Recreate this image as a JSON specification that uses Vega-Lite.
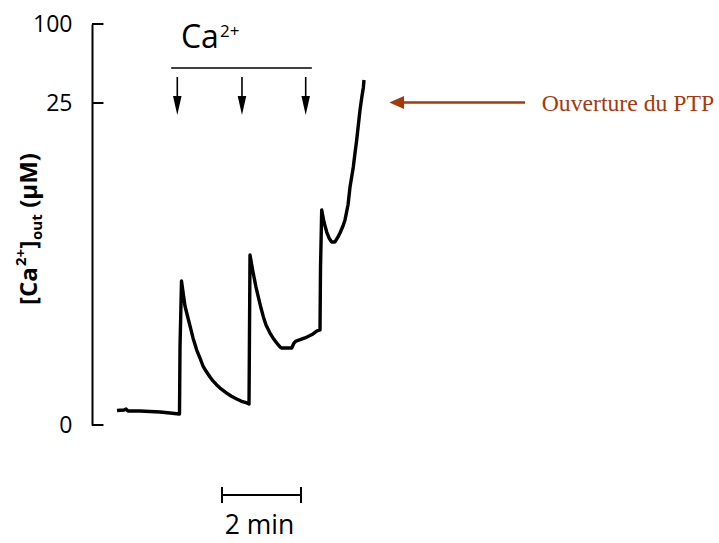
{
  "$schema": "https://vega.github.io/schema/vega-lite/v6.json",
  "autosize": {"type": "none"},
  "padding": {"left": 92, "top": 24, "right": 0, "bottom": 118},
  "width": 627,
  "height": 401,
  "background": "white",
  "config": {"view": {"stroke": null}},
  "datasets": {
    "trace": [
      {"t": 0.633, "ca": 1.13}, {"t": 0.81, "ca": 1.17}, {"t": 0.861, "ca": 1.24}, {"t": 0.911, "ca": 1.09},
      {"t": 1.215, "ca": 1.09}, {"t": 1.468, "ca": 1.05}, {"t": 1.722, "ca": 1.01}, {"t": 1.975, "ca": 0.93},
      {"t": 2.203, "ca": 0.85}, {"t": 2.215, "ca": 0.85}, {"t": 2.228, "ca": 6.06}, {"t": 2.266, "ca": 11.18},
      {"t": 2.304, "ca": 10.33}, {"t": 2.354, "ca": 9.24}, {"t": 2.43, "ca": 8.31}, {"t": 2.481, "ca": 7.69},
      {"t": 2.557, "ca": 6.76}, {"t": 2.651, "ca": 5.82}, {"t": 2.734, "ca": 5.2}, {"t": 2.81, "ca": 4.58},
      {"t": 2.886, "ca": 4.19}, {"t": 2.987, "ca": 3.73}, {"t": 3.063, "ca": 3.42}, {"t": 3.157, "ca": 3.11},
      {"t": 3.241, "ca": 2.87}, {"t": 3.41, "ca": 2.48}, {"t": 3.519, "ca": 2.25}, {"t": 3.663, "ca": 2.02},
      {"t": 3.772, "ca": 1.86}, {"t": 3.916, "ca": 1.71}, {"t": 3.975, "ca": 1.63}, {"t": 4.0, "ca": 13.2},
      {"t": 4.076, "ca": 11.88}, {"t": 4.152, "ca": 10.71}, {"t": 4.21, "ca": 9.94}, {"t": 4.278, "ca": 9.08},
      {"t": 4.337, "ca": 8.41}, {"t": 4.405, "ca": 7.76}, {"t": 4.506, "ca": 7.14}, {"t": 4.582, "ca": 6.76},
      {"t": 4.676, "ca": 6.37}, {"t": 4.759, "ca": 6.06}, {"t": 4.803, "ca": 5.98}, {"t": 5.056, "ca": 5.98},
      {"t": 5.114, "ca": 6.37}, {"t": 5.165, "ca": 6.52}, {"t": 5.392, "ca": 6.76}, {"t": 5.494, "ca": 6.91},
      {"t": 5.595, "ca": 7.07}, {"t": 5.696, "ca": 7.3}, {"t": 5.772, "ca": 7.38}, {"t": 5.785, "ca": 12.19},
      {"t": 5.815, "ca": 16.69}, {"t": 5.873, "ca": 15.76}, {"t": 5.942, "ca": 14.98}, {"t": 6.0, "ca": 14.52},
      {"t": 6.068, "ca": 14.21}, {"t": 6.152, "ca": 14.21}, {"t": 6.228, "ca": 14.6}, {"t": 6.278, "ca": 14.91},
      {"t": 6.354, "ca": 15.45}, {"t": 6.405, "ca": 15.92}, {"t": 6.481, "ca": 17.08}, {"t": 6.532, "ca": 18.48},
      {"t": 6.582, "ca": 19.41}, {"t": 6.615, "ca": 20.03}, {"t": 6.658, "ca": 21.12}, {"t": 6.701, "ca": 22.13},
      {"t": 6.734, "ca": 23.06}, {"t": 6.785, "ca": 24.46}, {"t": 6.835, "ca": 31.65}, {"t": 6.868, "ca": 39.24},
      {"t": 6.886, "ca": 46.84}
    ],
    "ticks": [{"v": 0}, {"v": 25}, {"v": 100}],
    "additions": [{"t": 2.159}, {"t": 3.797}, {"t": 5.41}],
    "scalebar": [{"t": 3.291}, {"t": 5.291}]
  },
  "layer": [
    {
      "data": {"name": "trace"},
      "mark": {"type": "line", "color": "black", "strokeWidth": 3.4, "strokeJoin": "round"},
      "encoding": {
        "x": {"field": "t", "type": "quantitative", "scale": {"domain": [0, 15.873], "nice": false, "zero": false}, "axis": null},
        "y": {
          "field": "ca", "type": "quantitative",
          "scale": {"domain": [0, 25, 100], "range": [401, 79, 0], "nice": false, "zero": false},
          "axis": {
            "values": [0, 25, 100], "title": null, "grid": false,
            "domainColor": "black", "domainWidth": 2, "ticks": false,
            "labelPadding": 20, "labelFont": "Open Sans", "labelFontSize": 23, "labelColor": "black",
            "labelFlush": false, "labelOverlap": false, "labelBaseline": "middle"
          }
        }
      }
    },
    {
      "data": {"name": "ticks"},
      "mark": {"type": "rule", "color": "black", "strokeWidth": 2},
      "encoding": {
        "x": {"datum": 0, "type": "quantitative", "axis": null},
        "x2": {"datum": 0.29},
        "y": {"field": "v", "type": "quantitative", "title": null}
      }
    },
    {
      "data": {"values": [{}]},
      "mark": {"type": "rule", "color": "black", "strokeWidth": 1.5},
      "encoding": {
        "x": {"datum": 2.006, "type": "quantitative", "axis": null},
        "x2": {"datum": 5.565},
        "y": {"datum": 58.2, "type": "quantitative"}
      }
    },
    {
      "data": {"name": "additions"},
      "mark": {"type": "rule", "color": "black", "strokeWidth": 1.6},
      "encoding": {
        "x": {"field": "t", "type": "quantitative", "axis": null},
        "y": {"datum": 49.7, "type": "quantitative"},
        "y2": {"datum": 27.9}
      }
    },
    {
      "data": {"name": "additions"},
      "mark": {"type": "point", "shape": "M-0.45,-1L0.45,-1L0,1Z", "size": 361, "filled": true, "color": "black", "opacity": 1, "strokeWidth": 0},
      "encoding": {
        "x": {"field": "t", "type": "quantitative", "axis": null},
        "y": {"datum": 24.8, "type": "quantitative"}
      }
    },
    {
      "data": {"values": [{}]},
      "mark": {"type": "text", "text": "Ca", "font": "Open Sans", "fontSize": 32, "align": "left", "baseline": "alphabetic", "color": "black"},
      "encoding": {
        "x": {"datum": 2.25, "type": "quantitative", "axis": null},
        "y": {"datum": 76.9, "type": "quantitative"}
      }
    },
    {
      "data": {"values": [{}]},
      "mark": {"type": "text", "text": "2+", "font": "Open Sans", "fontSize": 17, "align": "left", "baseline": "alphabetic", "color": "black"},
      "encoding": {
        "x": {"datum": 3.24, "type": "quantitative", "axis": null},
        "y": {"datum": 87.66, "type": "quantitative"}
      }
    },
    {
      "data": {"values": [{}]},
      "mark": {"type": "rule", "color": "#a33a0c", "strokeWidth": 2.6},
      "encoding": {
        "x": {"datum": 7.797, "type": "quantitative", "axis": null},
        "x2": {"datum": 10.962},
        "y": {"datum": 25.5, "type": "quantitative"}
      }
    },
    {
      "data": {"values": [{}]},
      "mark": {"type": "point", "shape": "M1,-0.88L1,0.88L-1,0Z", "size": 216, "filled": true, "color": "#a33a0c", "opacity": 1, "strokeWidth": 0},
      "encoding": {
        "x": {"datum": 7.714, "type": "quantitative", "axis": null},
        "y": {"datum": 25.5, "type": "quantitative"}
      }
    },
    {
      "data": {"values": [{}]},
      "mark": {"type": "text", "text": "Ouverture du PTP", "font": "Liberation Serif", "fontSize": 23.7, "align": "left", "baseline": "alphabetic", "color": "#a33a0c"},
      "encoding": {
        "x": {"datum": 11.385, "type": "quantitative", "axis": null},
        "y": {"datum": 24.38, "type": "quantitative"}
      }
    },
    {
      "data": {"values": [{}]},
      "mark": {"type": "rule", "color": "black", "strokeWidth": 2},
      "encoding": {
        "x": {"datum": 3.291, "type": "quantitative", "axis": null},
        "x2": {"datum": 5.291},
        "y": {"datum": -5.435, "type": "quantitative"}
      }
    },
    {
      "data": {"name": "scalebar"},
      "mark": {"type": "rule", "color": "black", "strokeWidth": 2},
      "encoding": {
        "x": {"field": "t", "type": "quantitative", "axis": null},
        "y": {"datum": -4.81, "type": "quantitative"},
        "y2": {"datum": -6.06}
      }
    },
    {
      "data": {"values": [{}]},
      "mark": {"type": "text", "text": "2 min", "font": "Open Sans", "fontSize": 26.5, "align": "center", "baseline": "alphabetic", "color": "black"},
      "encoding": {
        "x": {"datum": 4.241, "type": "quantitative", "axis": null},
        "y": {"datum": -8.5, "type": "quantitative"}
      }
    },
    {
      "data": {"values": [{}]},
      "mark": {"type": "text", "text": "[Ca", "font": "Open Sans", "fontWeight": "bold", "fontSize": 24, "angle": 270, "align": "left", "baseline": "alphabetic", "color": "black"},
      "encoding": {
        "x": {"datum": -1.405, "type": "quantitative", "axis": null},
        "y": {"datum": 9.317, "type": "quantitative"}
      }
    },
    {
      "data": {"values": [{}]},
      "mark": {"type": "text", "text": "2+", "font": "Open Sans", "fontWeight": "bold", "fontSize": 15, "angle": 270, "align": "left", "baseline": "alphabetic", "color": "black"},
      "encoding": {
        "x": {"datum": -1.671, "type": "quantitative", "axis": null},
        "y": {"datum": 12.345, "type": "quantitative"}
      }
    },
    {
      "data": {"values": [{}]},
      "mark": {"type": "text", "text": "]", "font": "Open Sans", "fontWeight": "bold", "fontSize": 24, "angle": 270, "align": "left", "baseline": "alphabetic", "color": "black"},
      "encoding": {
        "x": {"datum": -1.405, "type": "quantitative", "axis": null},
        "y": {"datum": 13.703, "type": "quantitative"}
      }
    },
    {
      "data": {"values": [{}]},
      "mark": {"type": "text", "text": "out", "font": "Open Sans", "fontWeight": "bold", "fontSize": 15, "angle": 270, "align": "left", "baseline": "alphabetic", "color": "black"},
      "encoding": {
        "x": {"datum": -1.273, "type": "quantitative", "axis": null},
        "y": {"datum": 14.363, "type": "quantitative"}
      }
    },
    {
      "data": {"values": [{}]},
      "mark": {"type": "text", "text": "(µM)", "font": "Open Sans", "fontWeight": "bold", "fontSize": 24, "angle": 270, "align": "left", "baseline": "alphabetic", "color": "black"},
      "encoding": {
        "x": {"datum": -1.405, "type": "quantitative", "axis": null},
        "y": {"datum": 16.86, "type": "quantitative"}
      }
    }
  ]
}
